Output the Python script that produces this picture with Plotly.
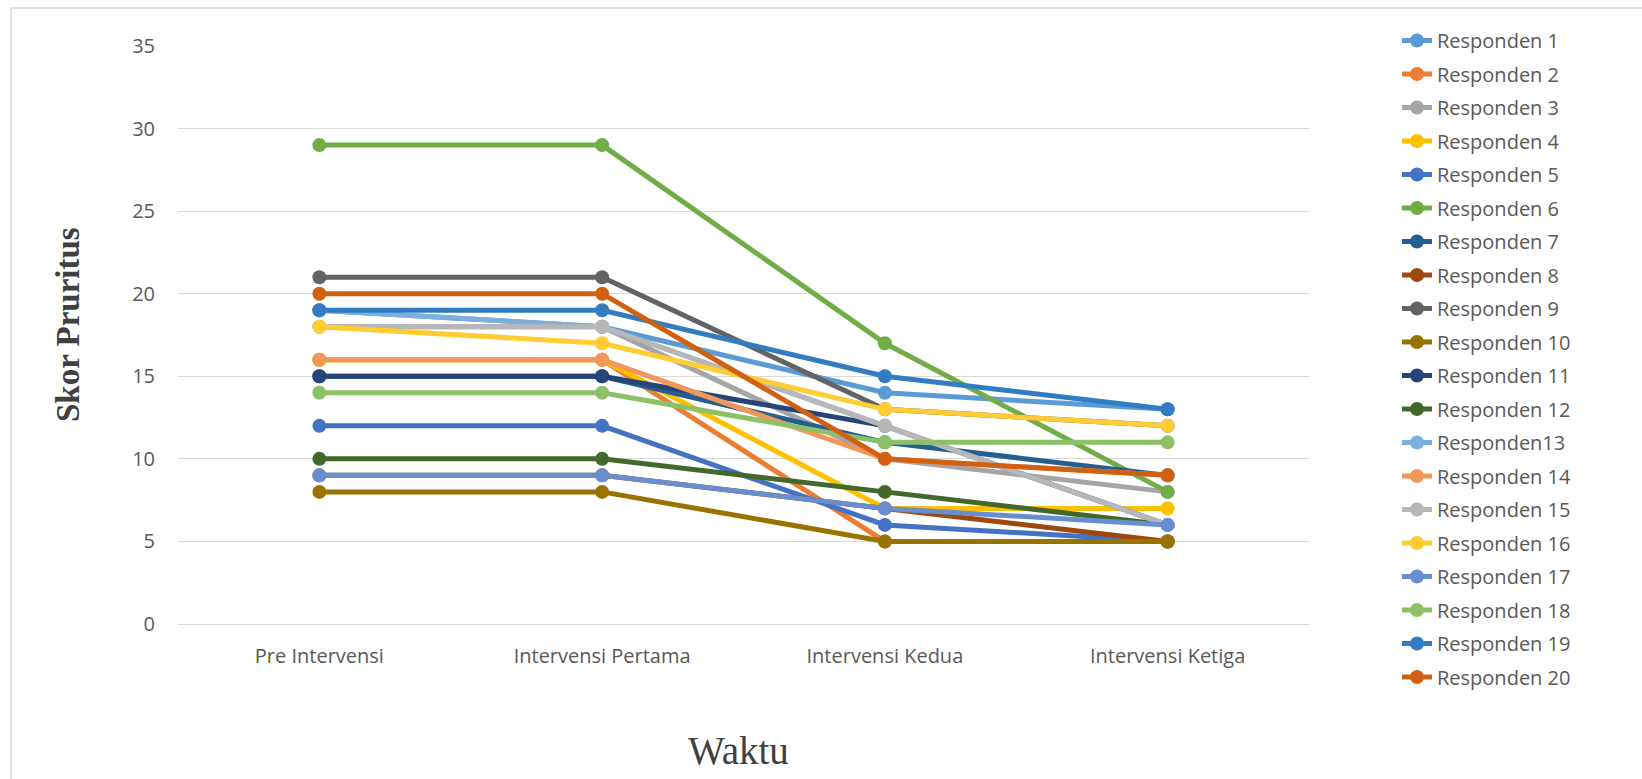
import plotly.graph_objects as go

# Time points of the measurement
waktu = ["Pre Intervensi", "Intervensi Pertama", "Intervensi Kedua", "Intervensi Ketiga"]

# Pruritus scores per respondent
responden_1 = [19, 18, 14, 13]
responden_2 = [16, 16, 5, 5]
responden_3 = [18, 18, 10, 8]
responden_4 = [16, 16, 7, 7]
responden_5 = [12, 12, 6, 5]
responden_6 = [29, 29, 17, 8]
responden_7 = [15, 15, 11, 9]
responden_8 = [9, 9, 7, 5]
responden_9 = [21, 21, 13, 12]
responden_10 = [8, 8, 5, 5]
responden_11 = [15, 15, 12, 6]
responden_12 = [10, 10, 8, 6]
responden_13 = [19, 18, 12, 6]
responden_14 = [16, 16, 10, 9]
responden_15 = [18, 18, 12, 6]
responden_16 = [18, 17, 13, 12]
responden_17 = [9, 9, 7, 6]
responden_18 = [14, 14, 11, 11]
responden_19 = [19, 19, 15, 13]
responden_20 = [20, 20, 10, 9]

names = ["Responden 1", "Responden 2", "Responden 3", "Responden 4", "Responden 5",
         "Responden 6", "Responden 7", "Responden 8", "Responden 9", "Responden 10",
         "Responden 11", "Responden 12", "Responden13", "Responden 14", "Responden 15",
         "Responden 16", "Responden 17", "Responden 18", "Responden 19", "Responden 20"]

series = [responden_1, responden_2, responden_3, responden_4, responden_5,
          responden_6, responden_7, responden_8, responden_9, responden_10,
          responden_11, responden_12, responden_13, responden_14, responden_15,
          responden_16, responden_17, responden_18, responden_19, responden_20]

colors = ["#5B9BD5", "#ED7D31", "#A5A5A5", "#FFC000", "#4472C4",
          "#70AD47", "#255E91", "#9E480E", "#636363", "#997300",
          "#264478", "#43682B", "#7CAFDD", "#F1975A", "#B7B7B7",
          "#FFCD33", "#698ED0", "#8CC168", "#327DC2", "#D26012"]

fig = go.Figure()
for i, (name, vals, col) in enumerate(zip(names, series, colors)):
    fig.add_trace(go.Scatter(
        x=waktu, y=vals, name=name, mode="lines+markers",
        legendgroup=f"g{i}",
        line=dict(color=col, width=5),
        marker=dict(color=col, size=14),
    ))

W, H = 1642, 779
ml, mr, mt, mb = 178, 333, 46, 155
pw, ph = W - ml - mr, H - mt - mb


def px_x(p):
    return (p - ml) / pw


def px_y(p):
    return (H - mb - p) / ph


tick_font = dict(family="Open Sans", size=20, color="#595959")

fig.update_layout(
    width=W, height=H,
    margin=dict(l=ml, r=mr, t=mt, b=mb),
    paper_bgcolor="white", plot_bgcolor="white",
    showlegend=True,
    legend=dict(
        xref="container", yref="container",
        x=1397 / W, y=1 - 21 / H, xanchor="left", yanchor="top",
        maxheight=H,
        font=dict(family="Open Sans", size=20, color="#595959"),
        tracegroupgap=4.5, bgcolor="rgba(0,0,0,0)",
        traceorder="grouped",
    ),
    xaxis=dict(
        type="category", range=[-0.5, 3.5],
        showgrid=False, zeroline=False, showline=False,
        tickfont=tick_font, ticks="", ticklabelstandoff=18,
    ),
    yaxis=dict(
        range=[0, 35], dtick=5, tick0=0,
        showgrid=True, gridcolor="#D9D9D9", gridwidth=1.3,
        zeroline=True, zerolinecolor="#D9D9D9", zerolinewidth=1.3,
        showline=False, tickfont=tick_font, ticks="", ticklabelstandoff=22,
    ),
    shapes=[dict(
        type="rect", xref="paper", yref="paper",
        x0=px_x(11), x1=px_x(W + 5), y0=px_y(8), y1=px_y(H + 5),
        line=dict(color="#D9D9D9", width=1.5), fillcolor="rgba(0,0,0,0)",
        layer="below",
    )],
    annotations=[
        dict(text="Waktu", xref="paper", yref="paper",
             x=px_x(738), y=px_y(750), xanchor="center", yanchor="middle",
             showarrow=False,
             font=dict(family="Liberation Serif", size=39, color="#404040")),
        dict(text="<b>Skor Pruritus</b>", xref="paper", yref="paper",
             x=px_x(68), y=px_y(325), xanchor="center", yanchor="middle",
             textangle=-90, showarrow=False,
             font=dict(family="Liberation Serif", size=33, color="#404040")),
    ],
)

fig.write_html("out.html")
